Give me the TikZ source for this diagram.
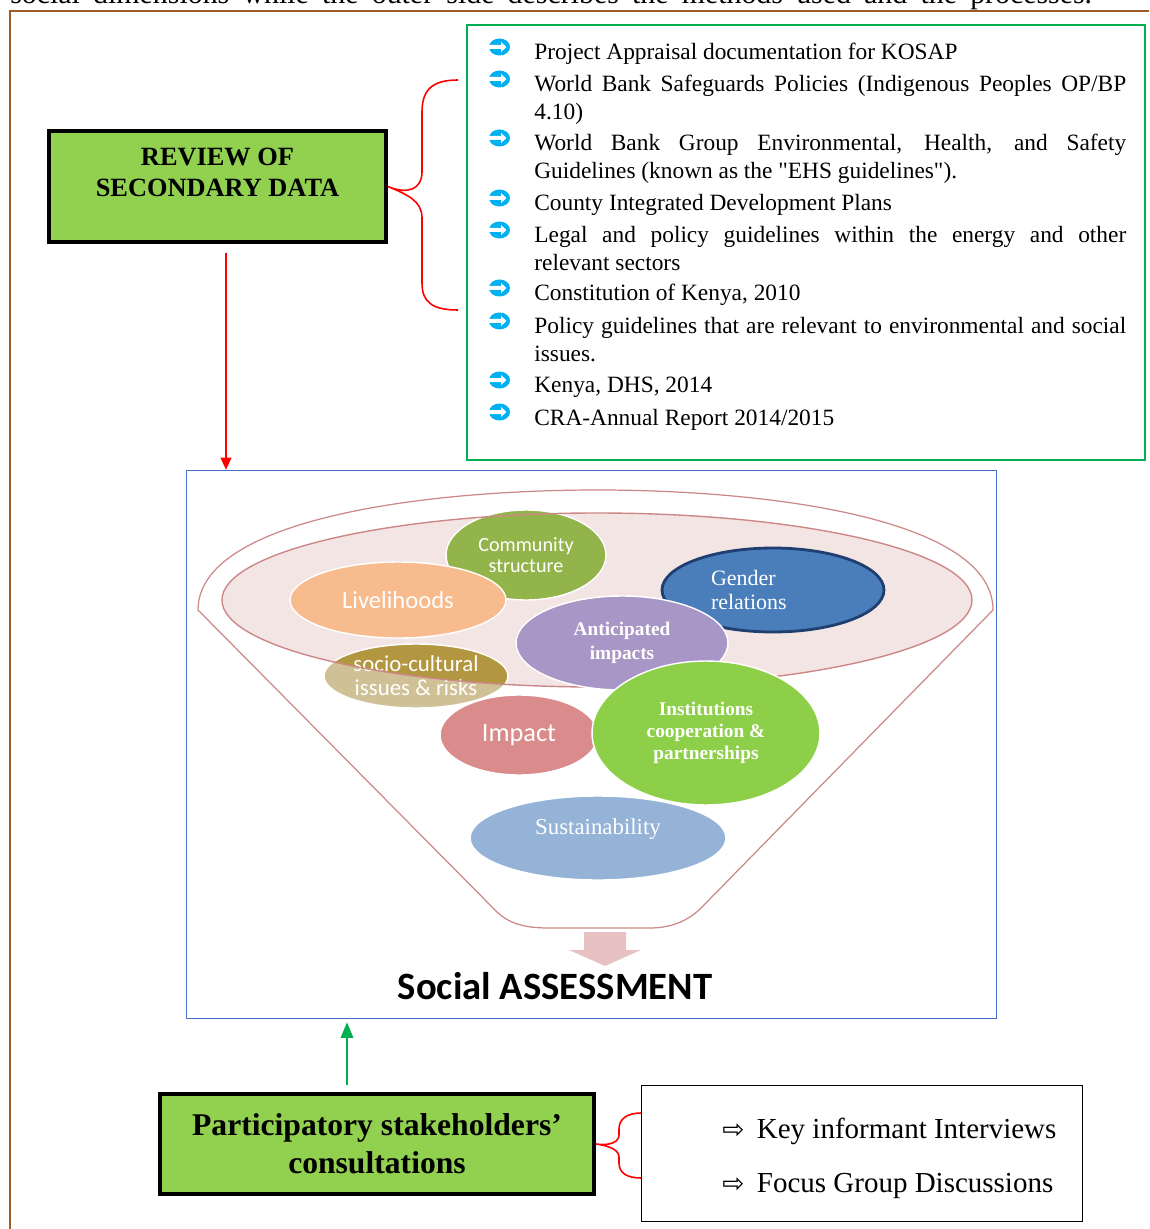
\documentclass[tikz,border=0pt]{standalone}
\usepackage{fontspec}
\setmainfont{Liberation Serif}[Ligatures=TeXOff]
\newfontfamily\calibrifont{Carlito}
\newfontfamily\symbolfont{DejaVu Sans}
\usepackage{xcolor}
\usepackage{tikz}
\usetikzlibrary{
    shapes.geometric,
    arrows.meta,
    positioning,
    calc
}
\definecolor{sagreen}{HTML}{92D050}
\definecolor{sagreenline}{HTML}{00B050}
\definecolor{sared}{HTML}{FF0000}
\definecolor{sabrown}{HTML}{9E5B26}
\definecolor{sacyan}{HTML}{00B0F0}
\definecolor{sablue}{HTML}{4472C4}
\definecolor{safunnel}{HTML}{CC8886}
\definecolor{samouth}{HTML}{F4E5E5}
\definecolor{sacommunity}{HTML}{93B44A}
\definecolor{salivelihood}{HTML}{F8BB8D}
\definecolor{sagender}{HTML}{4A7EBB}
\definecolor{sagenderline}{HTML}{1F3F70}
\definecolor{sasociodark}{HTML}{B39640}
\definecolor{sasociolight}{HTML}{CFC096}
\definecolor{saanticip}{HTML}{A897C6}
\definecolor{saimpact}{HTML}{D98C8B}
\definecolor{sainstit}{HTML}{8ECF4A}
\definecolor{sasustain}{HTML}{95B3D7}
\definecolor{sapinkarrow}{HTML}{E8C2C2}
\tikzset{
    % Green heading box
    sabox/.style={
        rectangle,
        draw=black,
        line width=2.3pt,
        fill=sagreen,
        inner sep=0pt,
        align=center
    },
    % Outline box
    saoutline/.style={
        rectangle,
        draw=#1,
        fill=white,
        inner sep=0pt
    },
    saoutline/.default=black,
    % Source list entry
    salist/.style={
        anchor=base west,
        inner sep=0pt,
        text width=11.84cm,
        align=justify,
        font=\fontsize{13.3}{15.9}\selectfont
    },
    % Method entry
    samethod/.style={
        anchor=west,
        inner sep=0pt,
        font=\fontsize{16.5}{19}\selectfont
    },
    % Funnel oval
    saoval/.style={
        ellipse,
        fill=#1,
        draw=white,
        line width=0.8pt,
        inner sep=0pt,
        align=center,
        text=white
    },
    % Brace
    sabrace/.style={
        draw=sared,
        line width=0.9pt
    },
    % Arrow style
    saarrow/.style={
        -{Triangle[length=7pt,width=6pt]},
        line width=1.5pt,
        color=#1
    },
    saarrow/.default=sared,
    % Cyan list bullet
    kbullet/.pic={
        \fill[sacyan] (0,0) ellipse [x radius=10.5, y radius=8.5];
        \fill[white] (-11,-2) -- (1.5,-2) -- (1.5,-5) -- (7,0) -- (1.5,5) -- (1.5,2) -- (-11,2) -- cycle;
    }
}

\begin{document}
\begin{tikzpicture}[x=0.02cm, y=-0.02cm]
    \useasboundingbox (0,0) rectangle (1149,1229);

    % Cut-off caption and page frame
    \node[anchor=base west, inner sep=0pt, font=\fontsize{17}{20}\selectfont] (intro) at (10,4) {\makebox[21.64cm][s]{social dimensions while the outer side describes the methods used and the processes.}};
    \draw[sabrown, line width=1.2pt] (10,1229) -- (10,11) -- (1149,11);

    % Secondary data box
    \node[sabox, minimum width=6.74cm, minimum height=2.22cm] (review) at (217.5,186.5) {};
    \node[font=\fontsize{15}{17.6}\selectfont\bfseries, align=center] (reviewtext) at (217.5,172) {REVIEW OF\\SECONDARY DATA};

    % Sources box
    \node[saoutline=sagreenline, line width=0.7pt, minimum width=13.56cm, minimum height=8.7cm] (srclist) at (806,242.5) {};

    % Sources
    \node[salist] (it1) at (534,60) {Project Appraisal documentation for KOSAP};
    \node[salist] (it2) at (534,92) {World Bank Safeguards Policies (Indigenous Peoples OP/BP\linebreak 4.10)};
    \node[salist] (it3) at (534,151) {World Bank Group Environmental, Health, and Safety\linebreak Guidelines (known as the "EHS guidelines").};
    \node[salist] (it4) at (534,211) {County Integrated Development Plans};
    \node[salist] (it5) at (534,243) {Legal and policy guidelines within the energy and other\linebreak relevant sectors};
    \node[salist] (it6) at (534,301) {Constitution of Kenya, 2010};
    \node[salist] (it7) at (534,334) {Policy guidelines that are relevant to environmental and social\linebreak issues.};
    \node[salist] (it8) at (534,393) {Kenya, DHS, 2014};
    \node[salist] (it9) at (534,425) {CRA-Annual Report 2014/2015};

    % Bullets
    \foreach \yy in {47,79,138,198,230,288,321,380,412}
        \pic at (499.5,\yy) {kbullet};

    % Brace to the sources
    \coordinate (btop) at (458,80);
    \coordinate (bbot) at (458,310);
    \draw[sabrace] (btop) .. controls (432,80) and (422,90) .. (422,112) -- (422,172) .. controls (422,189) and (408,195) .. (review.east) .. controls (408,195) and (422,201) .. (422,218) -- (422,283) .. controls (422,302) and (432,310) .. (bbot);

    % Funnel frame
    \node[saoutline=sablue, line width=0.8pt, minimum width=16.2cm, minimum height=10.96cm] (funnel) at (591.5,744.5) {};

    % Funnel outline
    \draw[safunnel, line width=0.7pt] (198,610) -- (497,912) .. controls (512,926) and (530,928) .. (550,928) -- (650,928) .. controls (672,928) and (690,920) .. (703,906) -- (993,610) .. controls (993,520) and (775,490) .. (597,490) .. controls (420,490) and (198,520) .. cycle;

    % Mouth of the funnel
    \fill[samouth] (597,600) ellipse [x radius=375, y radius=87];

    % Ovals
    \node[saoval=sacommunity, minimum width=3.2cm, minimum height=1.8cm, font=\calibrifont\fontsize{11.5}{12}\selectfont] (community) at (526,555) {Community\\structure};
    \node[saoval=salivelihood, minimum width=4.32cm, minimum height=1.52cm, font=\calibrifont\fontsize{14}{16}\selectfont] (livelihood) at (398,600) {Livelihoods};
    \node[saoval=sagender, draw=sagenderline, line width=1.6pt, minimum width=4.44cm, minimum height=1.68cm, text width=2.48cm, align=left, font=\fontsize{12.5}{13.6}\selectfont] (gender) at (773,590) {Gender\\relations};
    \node[saoval=sasociolight, minimum width=3.68cm, minimum height=1.28cm, font=\calibrifont\fontsize{13}{13.6}\selectfont,
        path picture={\fill[sasociodark] ([shift={(181,-76)}]path picture bounding box.center) ellipse [x radius=375, y radius=87];}] (socio) at (416,676) {socio-cultural\\issues \& risks};
    \draw[safunnel, line width=0.8pt] (597,600) ellipse [x radius=375, y radius=87];
    \node[saoval=saanticip, minimum width=4.24cm, minimum height=1.88cm, font=\bfseries\fontsize{11}{13.6}\selectfont] (anticip) at (622,643) {Anticipated\\impacts};
    \node[saoval=saimpact, minimum width=3.16cm, minimum height=1.6cm, font=\calibrifont\fontsize{15}{17}\selectfont] (impact) at (519,735) {Impact};
    \node[saoval=sainstit, minimum width=4.56cm, minimum height=2.88cm, font=\bfseries\fontsize{11}{12.5}\selectfont] (instit) at (706,733) {Institutions\\cooperation \&\\partnerships};
    \node[saoval=sasustain, minimum width=5.12cm, minimum height=1.68cm, text depth=0.44cm, font=\fontsize{13}{15}\selectfont] (sustain) at (598,838) {Sustainability};

    % Outlet arrow and title
    \fill[sapinkarrow] (584,932) -- (626,932) -- (626,950) -- (641,950) -- (605,966) -- (569,950) -- (584,950) -- cycle;
    \node[font=\calibrifont\bfseries\fontsize{22}{24}\selectfont] (satitle) at (555,986) {Social ASSESSMENT};

    % Arrow from review
    \draw[saarrow=sared] ($(review.south)+(8.5,9)$) -- ($(review.south |- funnel.north)+(8.5,0)$);

    % Consultation box
    \node[sabox, minimum width=8.68cm, minimum height=2.0cm, font=\fontsize{18}{21.5}\selectfont\bfseries] (consult) at (377,1144) {Participatory stakeholders’\\consultations};
    \draw[saarrow=sagreenline, -{Triangle[length=9pt,width=7pt]}] ($(consult.north)+(-30,-7)$) -- ($(consult.north |- funnel.south)+(-30,3)$);

    % Methods box
    \node[saoutline, line width=0.8pt, minimum width=8.82cm, minimum height=2.72cm] (methods) at (862,1153.5) {};
    \node[samethod] (m1) at (722,1131) {{\symbolfont\fontsize{15}{15}\selectfont ⇨}\hspace{0.25cm}Key informant Interviews};
    \node[samethod] (m2) at (722,1186) {{\symbolfont\fontsize{15}{15}\selectfont ⇨}\hspace{0.25cm}Focus Group Discussions};

    % Brace to the methods
    \coordinate (ctop) at (641,1113);
    \coordinate (cbot) at (641,1178);
    \draw[sabrace] (ctop) .. controls (627,1113) and (619,1119) .. (619,1129) -- (619,1135) .. controls (619,1142) and (610,1146) .. (consult.east) .. controls (610,1146) and (619,1150) .. (619,1157) -- (619,1163) .. controls (619,1173) and (627,1178) .. (cbot);

\end{tikzpicture}
\end{document}
